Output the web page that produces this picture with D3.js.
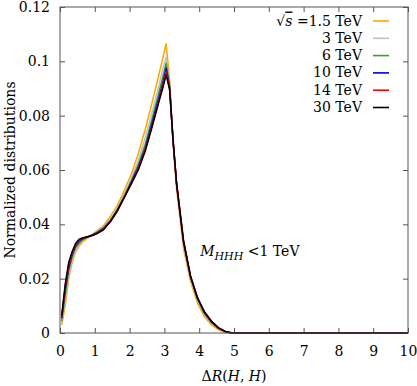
<!DOCTYPE html>
<html>
<head>
<meta charset="utf-8">
<script src="https://cdn.jsdelivr.net/npm/d3@7"></script>
<style>
  body { margin: 0; background: #fff; }
</style>
</head>
<body>
<div id="chart"></div>
<script>
let svgWidth = 417;
let svgHeight = 386;
let margin = { top: 7, right: 9, bottom: 53, left: 60 };
let chartWidth = svgWidth - margin.left - margin.right;
let chartHeight = svgHeight - margin.top - margin.bottom;
let serif = "'DejaVu Serif', serif";
let fontSize = 14;

// bin centres of Delta R(H,H)
let dR = [0.05,0.15,0.25,0.35,0.45,0.55,0.65,0.75,0.85,0.95,1.05,1.25,1.45,1.65,1.85,2.05,2.25,2.45,2.65,2.85,2.95,3.05,3.15,3.25,3.35,3.55,3.75,3.95,4.15,4.35,4.55,4.75,4.95,10];

// normalized distributions per collider energy
let tev1p5 = [0.003,0.010,0.020,0.026,0.030,0.032,0.0335,0.0345,0.0355,0.0365,0.0375,0.0395,0.043,0.047,0.0525,0.0585,0.066,0.075,0.085,0.0955,0.101,0.1065,0.093,0.070,0.053,0.031,0.019,0.011,0.006,0.003,0.0012,0.0002,0,0];
let tev3 = [0.004,0.012,0.021,0.027,0.0305,0.0325,0.034,0.035,0.0357,0.0365,0.0373,0.039,0.042,0.046,0.051,0.057,0.0635,0.072,0.0815,0.0915,0.097,0.1015,0.0915,0.0705,0.0545,0.0325,0.020,0.012,0.0068,0.0036,0.0015,0.0004,0,0];
let tev6 = [0.0045,0.014,0.023,0.028,0.0315,0.033,0.0343,0.035,0.0357,0.0363,0.037,0.0387,0.0415,0.0455,0.0505,0.056,0.062,0.0695,0.079,0.089,0.094,0.0993,0.091,0.0705,0.0548,0.0332,0.0205,0.0125,0.0072,0.0039,0.0017,0.0005,0,0];
let tev10 = [0.0055,0.016,0.024,0.029,0.032,0.0338,0.0347,0.0352,0.0356,0.0362,0.0368,0.0384,0.0412,0.0452,0.050,0.0555,0.061,0.068,0.0775,0.087,0.092,0.0975,0.0905,0.0705,0.055,0.0335,0.0208,0.0128,0.0075,0.0041,0.0018,0.0005,0,0];
let tev14 = [0.006,0.017,0.025,0.0295,0.0325,0.0342,0.0349,0.0353,0.0356,0.0361,0.0366,0.0382,0.041,0.045,0.050,0.055,0.0605,0.0675,0.0765,0.086,0.091,0.0962,0.090,0.0705,0.055,0.0338,0.021,0.013,0.0077,0.0043,0.0019,0.0006,0,0];
let tev30 = [0.0065,0.018,0.026,0.030,0.033,0.0345,0.035,0.0353,0.0356,0.036,0.0365,0.038,0.041,0.045,0.050,0.055,0.060,0.067,0.076,0.0855,0.090,0.095,0.0895,0.071,0.055,0.034,0.021,0.013,0.0078,0.0044,0.002,0.0006,0,0];

let seriesNames = ["1.5 TeV", "3 TeV", "6 TeV", "10 TeV", "14 TeV", "30 TeV"];
let seriesColors = ["#ffa500", "#c0c0c0", "#3a9d3a", "#0000e0", "#ff0000", "#000000"];
let xTicks = [0,1,2,3,4,5,6,7,8,9,10];
let yTicks = [0,0.02,0.04,0.06,0.08,0.1,0.12];

let allSeries = [tev1p5, tev3, tev6, tev10, tev14, tev30];

let svg = d3.select("#chart")
  .append("svg")
  .attr("width", svgWidth)
  .attr("height", svgHeight)
  .attr("font-family", serif)
  .attr("font-size", fontSize);

let chartGroup = svg.append("g")
  .attr("transform", `translate(${margin.left}, ${margin.top})`);

let xScale = d3.scaleLinear().domain([0, 10]).range([0, chartWidth]);
let yScale = d3.scaleLinear().domain([0, 0.12]).range([chartHeight, 0]);

// axes with inward ticks, mirrored on top / right like gnuplot
let fmtY = d => d === 0 ? "0" : String(+d.toFixed(2));
chartGroup.append("g")
  .attr("class", "axis")
  .attr("transform", `translate(0, ${chartHeight})`)
  .call(d3.axisBottom(xScale).tickValues(xTicks).tickSize(-5).tickPadding(13).tickFormat(d3.format("d")));
chartGroup.append("g")
  .attr("class", "axis")
  .call(d3.axisTop(xScale).tickValues(xTicks).tickSize(-5).tickFormat(""));
chartGroup.append("g")
  .attr("class", "axis")
  .call(d3.axisLeft(yScale).tickValues(yTicks).tickSize(-5).tickPadding(10).tickFormat(fmtY));
chartGroup.append("g")
  .attr("class", "axis")
  .attr("transform", `translate(${chartWidth}, 0)`)
  .call(d3.axisRight(yScale).tickValues(yTicks).tickSize(-5).tickFormat(""));

chartGroup.selectAll(".axis")
  .attr("font-family", serif)
  .attr("font-size", fontSize);
chartGroup.selectAll(".axis .domain").remove();
chartGroup.selectAll(".axis line").attr("stroke", "#555");
chartGroup.selectAll(".axis text").attr("fill", "#000");

// lines
let line = d3.line()
  .x((d, i) => xScale(dR[i]))
  .y(d => yScale(d));

chartGroup.selectAll(".curve")
  .data(allSeries)
  .enter()
  .append("path")
  .attr("class", "curve")
  .attr("fill", "none")
  .attr("stroke", (d, i) => seriesColors[i])
  .attr("stroke-width", 1.5)
  .attr("stroke-linejoin", "round")
  .attr("d", d => line(d));

// frame
chartGroup.append("rect")
  .attr("width", chartWidth)
  .attr("height", chartHeight)
  .attr("fill", "none")
  .attr("stroke", "#555")
  .attr("stroke-width", 1);

// legend
let legend = chartGroup.append("g").attr("transform", `translate(${chartWidth - 47}, 14)`);
let rowH = 17.3;
seriesNames.forEach(function(name, i) {
  let row = legend.append("g").attr("transform", `translate(0, ${i * rowH})`);
  let t = row.append("text")
    .attr("x", 1)
    .attr("y", 4.5)
    .attr("text-anchor", "end");
  if (i === 0) {
    t.append("tspan").text("\u221A");
    t.append("tspan").attr("font-style", "italic").style("text-decoration", "overline").text("s");
    t.append("tspan").text(" =" + name);
  } else {
    t.text(name);
  }
  row.append("line")
    .attr("x1", 12).attr("x2", 28)
    .attr("y1", 0).attr("y2", 0)
    .attr("stroke", seriesColors[i])
    .attr("stroke-width", 1.6);
});

// annotation
let note = chartGroup.append("text")
  .attr("x", xScale(4.0) + 1)
  .attr("y", yScale(0.0283));
note.append("tspan").attr("font-style", "italic").text("M");
note.append("tspan").attr("font-style", "italic").attr("font-size", 11).attr("dy", 4).text("HHH");
note.append("tspan").attr("dy", -4).text(" <1 TeV");

// axis titles
let xt = svg.append("text")
  .attr("x", margin.left + chartWidth / 2)
  .attr("y", 381)
  .attr("text-anchor", "middle");
xt.append("tspan").text("\u0394");
xt.append("tspan").attr("font-style", "italic").text("R");
xt.append("tspan").text("(");
xt.append("tspan").attr("font-style", "italic").text("H");
xt.append("tspan").text(", ");
xt.append("tspan").attr("font-style", "italic").text("H");
xt.append("tspan").text(")");

svg.append("text")
  .attr("transform", `translate(15, ${margin.top + chartHeight / 2}) rotate(-90)`)
  .attr("text-anchor", "middle")
  .text("Normalized distributions");
</script>
</body>
</html>
